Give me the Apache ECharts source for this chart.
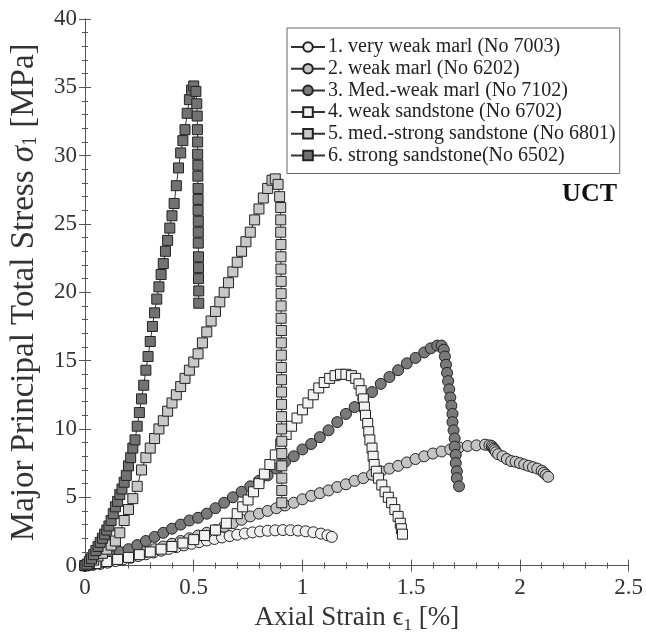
<!DOCTYPE html>
<html>
<head>
<meta charset="UTF-8">
<title>UCT stress-strain</title>
<script src="https://cdn.jsdelivr.net/npm/echarts@6.0.0/dist/echarts.min.js"></script>
<style>
    * { margin: 0; padding: 0; }
    body { background: #fff; }
    #chart { width: 646px; height: 639px; }
</style>
</head>
<body>
<div id="chart"></div>
<script>
    // series names (legend)
    const names = [
        '1. very weak marl (No 7003)',
        '2. weak marl (No 6202)',
        '3. Med.-weak marl (No 7102)',
        '4. weak sandstone (No 6702)',
        '5. med.-strong sandstone (No 6801)',
        '6. strong sandstone(No 6502)'
    ];

    // 1. very weak marl - axial strain [%] / stress [MPa]
    const strain1 = [0, 0.035, 0.07, 0.105, 0.14, 0.175, 0.21, 0.245, 0.28, 0.315, 0.35, 0.385, 0.42, 0.455, 0.49, 0.525, 0.56, 0.595, 0.63, 0.665, 0.7, 0.735, 0.77, 0.805, 0.84, 0.875, 0.91, 0.945, 0.98, 1.015, 1.05, 1.085, 1.115, 1.135];
    const stress1 = [0, 0.05, 0.12, 0.22, 0.33, 0.45, 0.57, 0.7, 0.83, 0.96, 1.09, 1.22, 1.35, 1.48, 1.6, 1.72, 1.84, 1.95, 2.06, 2.16, 2.26, 2.35, 2.43, 2.5, 2.55, 2.58, 2.6, 2.59, 2.56, 2.51, 2.44, 2.34, 2.22, 2.1];

    // 2. weak marl
    const strain2 = [0, 0.04, 0.08, 0.12, 0.16, 0.2, 0.24, 0.28, 0.32, 0.36, 0.4, 0.44, 0.48, 0.52, 0.56, 0.6, 0.64, 0.68, 0.72, 0.76, 0.8, 0.84, 0.88, 0.92, 0.96, 1.0, 1.04, 1.08, 1.12, 1.16, 1.2, 1.24, 1.28, 1.32, 1.36, 1.4, 1.44, 1.48, 1.52, 1.56, 1.6, 1.64, 1.68, 1.72, 1.76, 1.8, 1.84, 1.86, 1.87, 1.875, 1.88, 1.885, 1.89, 1.9, 1.92, 1.94, 1.96, 1.98, 2.0, 2.02, 2.04, 2.06, 2.08, 2.1, 2.11, 2.12, 2.13];
    const stress2 = [0, 0.1, 0.25, 0.4, 0.55, 0.7, 0.85, 1.0, 1.2, 1.4, 1.6, 1.8, 2.0, 2.2, 2.4, 2.6, 2.85, 3.1, 3.35, 3.6, 3.8, 4.0, 4.2, 4.4, 4.6, 4.85, 5.1, 5.3, 5.5, 5.75, 5.95, 6.2, 6.4, 6.65, 6.9, 7.1, 7.3, 7.55, 7.8, 8.0, 8.2, 8.35, 8.5, 8.65, 8.75, 8.8, 8.85, 8.8, 8.75, 8.65, 8.55, 8.45, 8.3, 8.15, 8.0, 7.8, 7.65, 7.6, 7.5, 7.4, 7.3, 7.2, 7.1, 6.95, 6.8, 6.65, 6.5];

    // 3. Med.-weak marl
    const strain3 = [0, 0.04, 0.08, 0.12, 0.16, 0.2, 0.24, 0.28, 0.32, 0.36, 0.4, 0.44, 0.48, 0.52, 0.56, 0.6, 0.64, 0.68, 0.72, 0.76, 0.8, 0.84, 0.88, 0.92, 0.96, 1.0, 1.04, 1.08, 1.12, 1.16, 1.2, 1.24, 1.28, 1.32, 1.36, 1.4, 1.44, 1.48, 1.52, 1.56, 1.59, 1.62, 1.64, 1.65, 1.655, 1.66, 1.665, 1.67, 1.675, 1.68, 1.685, 1.69, 1.69, 1.695, 1.7, 1.7, 1.705, 1.705, 1.71, 1.71, 1.72];
    const stress3 = [0, 0.2, 0.4, 0.7, 1.0, 1.2, 1.5, 1.8, 2.1, 2.4, 2.7, 3.0, 3.3, 3.5, 3.8, 4.2, 4.6, 5.0, 5.4, 5.8, 6.2, 6.6, 7.1, 7.6, 8.0, 8.5, 8.9, 9.4, 9.9, 10.5, 11.1, 11.6, 12.2, 12.7, 13.3, 13.8, 14.3, 14.8, 15.2, 15.6, 15.9, 16.1, 16.1, 15.8, 15.3, 14.7, 14.1, 13.5, 12.9, 12.3, 11.7, 11.1, 10.5, 9.9, 9.3, 8.7, 8.1, 7.5, 6.9, 6.4, 5.8];

    // 4. weak sandstone
    const strain4 = [0, 0.05, 0.1, 0.15, 0.2, 0.25, 0.3, 0.35, 0.4, 0.45, 0.5, 0.55, 0.6, 0.65, 0.7, 0.725, 0.75, 0.775, 0.8, 0.825, 0.85, 0.875, 0.9, 0.925, 0.95, 0.975, 1.0, 1.025, 1.05, 1.075, 1.1, 1.125, 1.15, 1.175, 1.2, 1.225, 1.245, 1.26, 1.27, 1.28, 1.285, 1.29, 1.3, 1.305, 1.31, 1.32, 1.325, 1.33, 1.34, 1.35, 1.365, 1.38, 1.395, 1.41, 1.425, 1.44, 1.45, 1.455, 1.46];
    const stress4 = [0, 0.15, 0.3, 0.45, 0.6, 0.8, 1.0, 1.2, 1.4, 1.65, 1.9, 2.2, 2.6, 3.1, 3.8, 4.3, 4.8, 5.4, 6.0, 6.7, 7.4, 8.1, 8.9, 9.6, 10.2, 10.8, 11.4, 11.9, 12.5, 13.0, 13.4, 13.7, 13.9, 14.0, 14.0, 13.9, 13.7, 13.3, 12.8, 12.2, 11.6, 11.0, 10.4, 9.8, 9.2, 8.6, 8.0, 7.4, 6.9, 6.4, 5.9, 5.4, 5.0, 4.6, 4.1, 3.6, 3.1, 2.7, 2.3];

    // 5. med.-strong sandstone
    const strain5 = [0, 0.02, 0.04, 0.06, 0.08, 0.1, 0.12, 0.14, 0.16, 0.18, 0.2, 0.22, 0.24, 0.26, 0.28, 0.3, 0.32, 0.34, 0.36, 0.38, 0.4, 0.42, 0.44, 0.46, 0.48, 0.5, 0.52, 0.54, 0.56, 0.58, 0.6, 0.62, 0.64, 0.66, 0.68, 0.7, 0.72, 0.74, 0.76, 0.78, 0.8, 0.82, 0.84, 0.86, 0.875, 0.888, 0.895, 0.9, 0.9, 0.9, 0.901, 0.901, 0.901, 0.902, 0.902, 0.902, 0.902, 0.903, 0.903, 0.903, 0.903, 0.904, 0.904, 0.904, 0.904, 0.904, 0.905, 0.905, 0.905, 0.905, 0.905, 0.905];
    const stress5 = [0, 0.2, 0.4, 0.7, 0.9, 1.2, 1.5, 1.8, 2.4, 3.3, 4.1, 4.9, 5.8, 7.0, 7.9, 8.6, 9.3, 10.0, 10.6, 11.3, 11.9, 12.5, 13.1, 13.7, 14.3, 14.9, 15.5, 16.3, 17.1, 17.9, 18.6, 19.3, 20.0, 20.7, 21.5, 22.2, 23.0, 23.7, 24.4, 25.3, 26.1, 26.9, 27.6, 28.2, 28.3, 27.9, 27.0, 26.2, 25.3, 24.4, 23.5, 22.6, 21.7, 20.8, 19.9, 19.0, 18.1, 17.2, 16.3, 15.4, 14.5, 13.6, 12.7, 11.8, 10.9, 10.0, 9.1, 8.2, 7.3, 6.4, 5.5, 4.6];

    // 6. strong sandstone
    const strain6 = [0, 0.01, 0.02, 0.03, 0.04, 0.05, 0.06, 0.07, 0.08, 0.09, 0.1, 0.11, 0.12, 0.13, 0.14, 0.15, 0.16, 0.17, 0.18, 0.19, 0.2, 0.21, 0.22, 0.23, 0.24, 0.25, 0.26, 0.27, 0.28, 0.29, 0.3, 0.31, 0.32, 0.33, 0.34, 0.35, 0.36, 0.37, 0.38, 0.39, 0.4, 0.41, 0.42, 0.43, 0.44, 0.45, 0.46, 0.47, 0.48, 0.49, 0.5, 0.51, 0.514, 0.516, 0.517, 0.518, 0.518, 0.519, 0.519, 0.52, 0.52, 0.52, 0.521, 0.521, 0.521, 0.522, 0.522, 0.522, 0.523, 0.523];
    const stress6 = [0, 0.1, 0.3, 0.5, 0.8, 1.1, 1.4, 1.7, 2.0, 2.3, 2.6, 2.9, 3.3, 3.8, 4.3, 4.7, 5.2, 5.6, 6.1, 6.6, 7.3, 7.9, 8.6, 9.2, 10.2, 11.2, 12.2, 13.2, 14.3, 15.3, 16.4, 17.5, 18.5, 19.5, 20.4, 21.3, 22.1, 23.0, 23.8, 24.7, 25.6, 26.5, 27.8, 29.1, 30.2, 31.1, 31.9, 33.1, 34.1, 34.8, 35.1, 34.7, 33.8, 32.9, 31.9, 31.0, 30.1, 29.3, 28.5, 27.6, 26.8, 26.0, 25.2, 24.4, 23.6, 22.6, 21.8, 21.0, 20.1, 19.2];

    const strains = [strain1, strain2, strain3, strain4, strain5, strain6];
    const stresses = [stress1, stress2, stress3, stress4, stress5, stress6];
    const fills = ['#efefef', '#c4c4c4', '#7a7a7a', '#f2f2f2', '#c8c8c8', '#727272'];
    const shapes = ['circle', 'circle', 'circle', 'rect', 'rect', 'rect'];

    const serif = 'Liberation Serif';

    function zip(xs, ys) {
        return xs.map(function (x, i) { return [x, ys[i]]; });
    }

    function makeSeries(i) {
        return {
            name: names[i],
            type: 'line',
            data: zip(strains[i], stresses[i]),
            symbol: shapes[i],
            symbolSize: shapes[i] === 'circle' ? 11 : 10,
            showAllSymbol: true,
            color: fills[i],
            itemStyle: {color: fills[i], borderColor: '#222', borderWidth: 1},
            lineStyle: {color: '#333', width: 1},
            emphasis: {disabled: true}
        };
    }

    const tickStyle = {
        axisLine: {show: true, lineStyle: {color: '#555', width: 1}},
        axisTick: {show: true, inside: true, length: 6, lineStyle: {color: '#555'}},
        minorTick: {show: true, splitNumber: 5, length: 3, lineStyle: {color: '#555'}},
        splitLine: {show: false}
    };

    let chart = echarts.init(document.getElementById('chart'));

    let option = {
        animation: false,
        backgroundColor: '#fff',
        grid: {left: 85, right: 16, top: 19, bottom: 73},
        xAxis: [
            Object.assign({
                type: 'value', min: 0, max: 2.5, interval: 0.5, position: 'bottom',
                name: '{a|Axial Strain ϵ}{s|1}{a| [%]}',
                nameLocation: 'middle', nameGap: 32,
                nameTextStyle: {
                    rich: {
                        a: {fontFamily: serif, fontSize: 27, color: '#333'},
                        s: {fontFamily: serif, fontSize: 17, color: '#333', padding: [15, 0, 0, 0]}
                    }
                },
                axisLabel: {fontFamily: serif, fontSize: 23, color: '#333', margin: 11}
            }, tickStyle),
            Object.assign({
                type: 'value', min: 0, max: 2.5, interval: 0.5, position: 'top',
                axisLabel: {show: false}
            }, tickStyle)
        ],
        yAxis: [
            Object.assign({
                type: 'value', min: 0, max: 40, interval: 5, position: 'left',
                name: '{a|Major Principal Total Stress }{i|σ}{s|1}{a| [MPa]}',
                nameLocation: 'middle', nameGap: 44, nameRotate: 90,
                nameTextStyle: {
                    rich: {
                        a: {fontFamily: serif, fontSize: 33, color: '#333'},
                        i: {fontFamily: serif, fontSize: 33, fontStyle: 'italic', color: '#333'},
                        s: {fontFamily: serif, fontSize: 20, color: '#333', padding: [12, 0, 0, 0]}
                    }
                },
                axisLabel: {fontFamily: serif, fontSize: 23, color: '#333', margin: 8}
            }, tickStyle),
            Object.assign({
                type: 'value', min: 0, max: 40, interval: 5, position: 'right',
                axisLabel: {show: false}
            }, tickStyle)
        ],
        legend: {
            orient: 'vertical',
            left: 287,
            top: 28,
            padding: [9, 4, 8, 3],
            itemGap: 1.7,
            itemWidth: 34,
            itemHeight: 12,
            backgroundColor: '#fff',
            borderColor: '#666',
            borderWidth: 1,
            borderRadius: 0,
            selectedMode: false,
            textStyle: {fontFamily: serif, fontSize: 20, color: '#222', lineHeight: 20, padding: [0, 0, 0, -2]},
            data: names
        },
        graphic: [{
            type: 'text',
            right: 29,
            top: 181,
            style: {text: 'UCT', font: 'bold 26px "Liberation Serif"', fill: '#111'}
        }],
        series: [0, 1, 2, 3, 4, 5].map(makeSeries)
    };

    chart.setOption(option);
</script>
</body>
</html>
